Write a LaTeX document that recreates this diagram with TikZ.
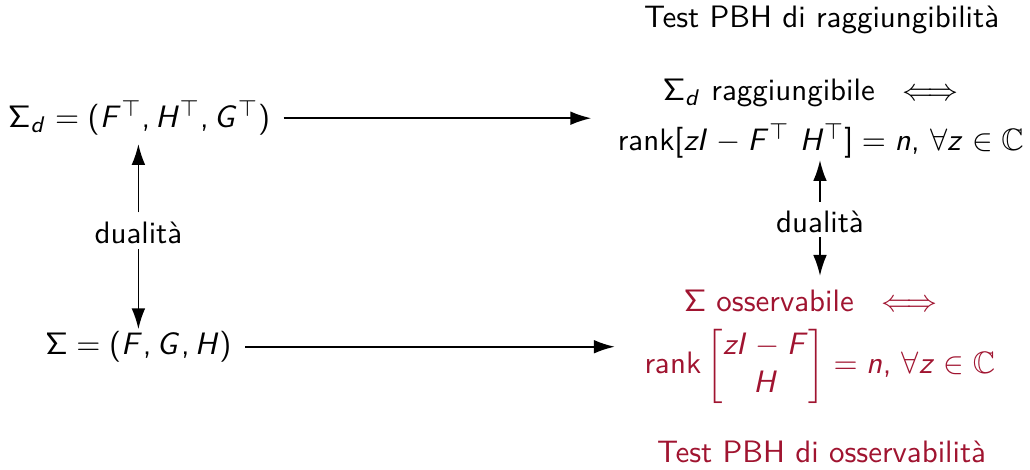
\documentclass[tikz,border=0pt,11pt]{standalone}
\usepackage{amsmath,amssymb}
\usepackage{xcolor}
\usepackage{tikz}
\usetikzlibrary{arrows.meta,positioning,fit}
% sans serif math, beamer-like
\SetSymbolFont{operators}{normal}{OT1}{cmss}{m}{n}
\SetSymbolFont{letters}{normal}{OT1}{cmss}{m}{sl}
\DeclareMathSymbol{,}{\mathpunct}{operators}{"2C}
\renewcommand{\familydefault}{\sfdefault}
\definecolor{alertred}{RGB}{160,20,48}

\begin{document}
\begin{tikzpicture}[
  >={Latex[length=2.6mm,width=1.7mm]},
  conn/.style={->, line width=0.6pt},
  eq/.style={inner sep=0.5pt},
  alert/.style={text=alertred},
]
\useasboundingbox (0,0) rectangle (12.8,5.829);

% Systems (left)
\node[eq] (sigd)  at (1.73,4.36) {$\Sigma_d = (F^\top, H^\top, G^\top)$};
\node[eq] (dualL) at (1.72,2.94) {dualità};
\node[eq] (sig)   at (1.72,1.52) {$\Sigma = (F, G, H)$};

% Reachability test (top right)
\node (titR) at (10.21,5.58) {Test PBH di raggiungibilità};
\node[eq] (reach1) at (10.13,4.68) {$\Sigma_d$ raggiungibile\hspace{3pt} $\iff$};
\node[eq] (reach2) at (10.20,4.08)
  {$\operatorname{rank}[zI - F^\top\ H^\top] = n,\, \forall z \in \mathbb{C}$};
\node[fit=(reach1)(reach2), inner sep=0pt] (reach) {};

\node[eq] (dualR) at (10.19,3.07) {dualità};

% Observability test (bottom right)
\node[eq, alert] (obs1) at (10.13,2.09) {$\Sigma$ osservabile\hspace{3pt} $\iff$};
\node[eq, alert] (obs2) at (10.19,1.28)
  {$\operatorname{rank}\begin{bmatrix} zI - F \\ H \end{bmatrix} = n,\, \forall z \in \mathbb{C}$};
\node[fit=(obs1)(obs2), inner sep=0pt] (obs) {};
\node[alert] (titO) at (10.21,0.21) {Test PBH di osservabilità};

% Arrows
\draw[conn, shorten <=0.14cm, shorten >=0.30cm] (sigd.east) -- (sigd.east -| reach.west);
\draw[conn, shorten <=0.15cm, shorten >=0.34cm] (sig.east) -- (sig.east -| obs.west);
\draw[conn, shorten <=0.09cm, shorten >=0.08cm] (dualL) -- (dualL |- sigd.south);
\draw[conn, shorten <=0.05cm] (dualL) -- (dualL |- sig.north);
\draw[conn, shorten <=0.09cm] (dualR) -- (dualR |- reach2.south);
\draw[conn, shorten <=0.03cm, shorten >=0.15cm] (dualR) -- (dualR |- obs1.north);

\end{tikzpicture}
\end{document}
